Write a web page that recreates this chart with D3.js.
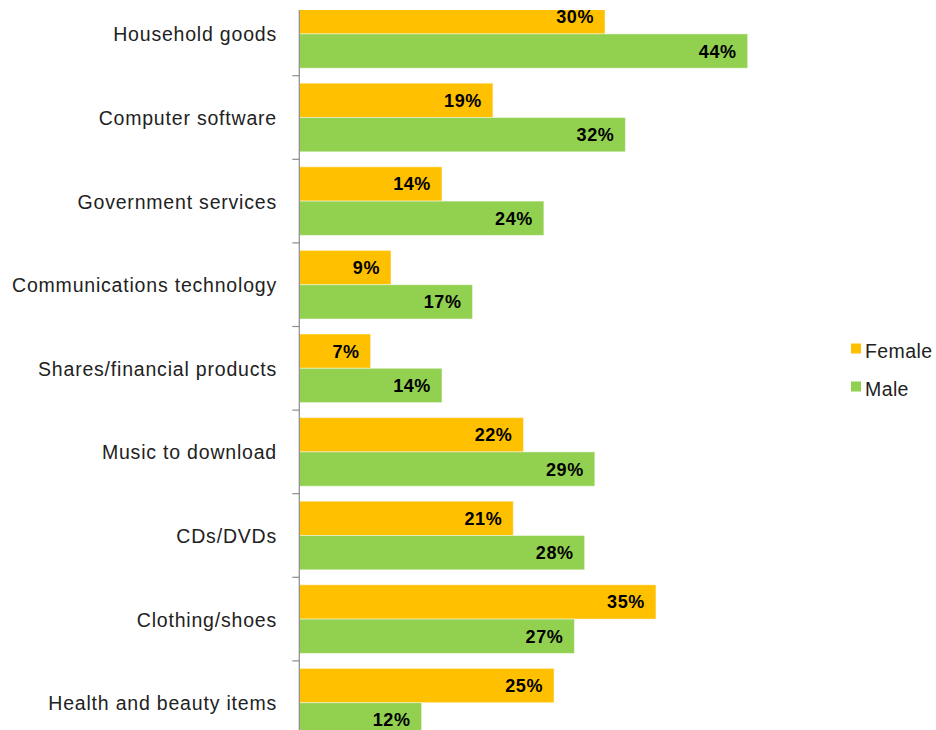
<!DOCTYPE html>
<html>
<head>
<meta charset="utf-8">
<script src="https://cdn.jsdelivr.net/npm/d3@7"></script>
<style>
  html, body { margin: 0; padding: 0; background: #fff; }
  svg { display: block; font-family: "Liberation Sans", Arial, sans-serif; }
</style>
</head>
<body>
<svg id="chart" width="936" height="730"></svg>
<script>
// Share of online shoppers buying each product type, by gender
const categories = [
  "Household goods",
  "Computer software",
  "Government services",
  "Communications technology",
  "Shares/financial products",
  "Music to download",
  "CDs/DVDs",
  "Clothing/shoes",
  "Health and beauty items"
];
const series = ["Female", "Male"];
const femaleValues = [30, 19, 14, 9, 7, 22, 21, 35, 25];
const maleValues   = [44, 32, 24, 17, 14, 29, 28, 27, 12];
const colors = { Female: "#FFC000", Male: "#92D050" };

const rows = categories.map((c, i) => ({
  category: c,
  values: [
    { key: "Female", value: femaleValues[i] },
    { key: "Male", value: maleValues[i] }
  ]
}));

const svg = d3.select("#chart");
const x0 = 299.3;
const x = d3.scaleLinear().domain([0, 44]).range([x0, x0 + 44 * 10.19]);
const y = d3.scaleBand().domain(categories).range([-7.9, 744.5]).paddingInner(0).paddingOuter(0);
const ySub = d3.scaleBand().domain(series).range([0, y.bandwidth()]).paddingInner(0).paddingOuter(0.219);

// Plot area clipped at the top edge of the axis
svg.append("defs").append("clipPath").attr("id", "plotClip")
  .append("rect").attr("x", 0).attr("y", 10).attr("width", 936).attr("height", 720);

const plot = svg.append("g").attr("clip-path", "url(#plotClip)");

const groups = plot.selectAll("g.cat").data(rows).join("g")
  .attr("class", "cat")
  .attr("transform", d => `translate(0,${y(d.category)})`);

groups.selectAll("rect").data(d => d.values).join("rect")
  .attr("x", x(0))
  .attr("y", d => ySub(d.key))
  .attr("width", d => x(d.value) - x(0))
  .attr("height", ySub.bandwidth())
  .attr("fill", d => colors[d.key])
  .attr("stroke", "rgba(255,255,255,0.45)")
  .attr("stroke-width", 1);

groups.selectAll("text.val").data(d => d.values).join("text")
  .attr("class", "val")
  .attr("x", d => x(d.value) - 11)
  .attr("y", d => ySub(d.key) + ySub.bandwidth() / 2)
  .attr("dy", "0.36em")
  .attr("text-anchor", "end")
  .attr("font-size", 18)
  .attr("font-weight", "bold")
  .attr("letter-spacing", "0.6px")
  .attr("fill", "#000")
  .text(d => d.value + "%");

// Category labels
plot.selectAll("text.cat").data(categories).join("text")
  .attr("class", "cat")
  .attr("x", 277)
  .attr("y", d => y(d) + y.bandwidth() / 2 + 0.5)
  .attr("dy", "0.36em")
  .attr("text-anchor", "end")
  .attr("font-size", 19.5)
  .attr("letter-spacing", "0.8px")
  .attr("fill", "#222")
  .text(d => d);

// Vertical axis with tick marks at band boundaries
const boundaries = categories.slice(1).map(c => y(c));
plot.append("line")
  .attr("x1", x(0)).attr("x2", x(0))
  .attr("y1", 10).attr("y2", 730)
  .attr("stroke", "#8c8c8c").attr("stroke-width", 1.2);
plot.selectAll("line.tick").data(boundaries).join("line")
  .attr("class", "tick")
  .attr("x1", x(0) - 7).attr("x2", x(0))
  .attr("y1", d => d).attr("y2", d => d)
  .attr("stroke", "#8c8c8c").attr("stroke-width", 1.2);

// Legend
const legend = svg.append("g").attr("transform", "translate(851,343.5)");
const li = legend.selectAll("g").data(series).join("g")
  .attr("transform", (d, i) => `translate(0,${i * 38})`);
li.append("rect").attr("width", 10).attr("height", 10).attr("fill", d => colors[d]);
li.append("text")
  .attr("x", 14).attr("y", 7).attr("dy", "0.36em")
  .attr("font-size", 19.5).attr("letter-spacing", "0.4px")
  .attr("fill", "#222")
  .text(d => d);
</script>
</body>
</html>
